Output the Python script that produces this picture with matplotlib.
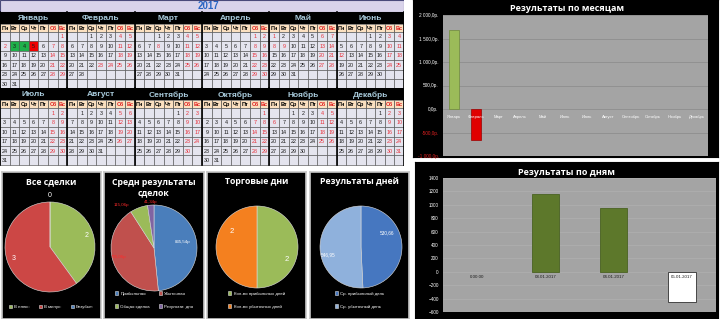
import calendar
import matplotlib
matplotlib.use("Agg")
import matplotlib.pyplot as plt
from matplotlib.patches import Rectangle
import numpy as np

W, H = 720, 319

# ---- data ----
year = 2017
month_names = ["Январь", "Февраль", "Март", "Апрель", "Май", "Июнь",
               "Июль", "Август", "Сентябрь", "Октябрь", "Ноябрь", "Декабрь"]
day_names = ["Пн", "Вт", "Ср", "Чт", "Пт", "Сб", "Вс"]
holidays = {1: [2], 2: [23, 24], 3: [8], 5: [1, 8, 9], 6: [12], 11: [6]}
win_days = {1: [3, 4]}
loss_days = {1: [5]}

month_results = [1675, -660, 0, 0, 0, 0, 0, 0, 0, 0, 0, 0]

day_labels = ["0:00:00", "03.01.2017", "04.01.2017", "05.01.2017"]
day_results = [0, 1165, 955, -455]

deals_labels = ["В плюс:", "В минус:", "Безубыт:"]
deals_counts = [2, 3, 0]

avg_labels = ["Прибыльная", "Убыточная", "Общая сделка", "Результат. дня"]
avg_values = [835.54, 735.06, 115.06, 41.34]

tdays_labels = ["Кол-во прибыльных дней", "Кол-во убыточных дней"]
tdays_counts = [2, 2]

dres_labels = ["Ср. прибыльный день", "Ср. убыточный день"]
dres_values = [530.66, 546.95]

plt.rcParams['font.family'] = ['Liberation Sans', 'DejaVu Sans']
title_font = ['Open Sans', 'DejaVu Sans']

fig = plt.figure(figsize=(W / 100, H / 100), dpi=100)
fig.patch.set_facecolor('white')


def px_axes(x, y, w, h):
    return fig.add_axes([x / W, 1 - (y + h) / H, w / W, h / H])


# ---- calendar ----
cal = px_axes(0, 0, 404, 166)
cal.set_xlim(0, 404)
cal.set_ylim(166, 0)
cal.axis('off')
cw = 404 / 42
wh = 9.4
cal.add_patch(Rectangle((0, 0), 404, 12, fc='#d9d3ea', ec='#4a4a7a', lw=0.8))
cal.text(208, 6.3, str(year), color='#2a66c4', fontsize=7, fontweight='bold',
         ha='center', va='center')

for mi in range(12):
    half, k = divmod(mi, 6)
    top = 12 + half * (20 + 6 * wh)
    x0 = k * 7 * cw
    cal.add_patch(Rectangle((x0, top), 7 * cw, 12, fc='black', ec='none'))
    cal.text(x0 + 3.5 * cw, top + 6.5, month_names[mi], color='#a8cadb',
             fontsize=6, fontweight='bold', ha='center', va='center')
    for d in range(7):
        cal.add_patch(Rectangle((x0 + d * cw, top + 12), cw, 8, fc='#fbe0c0',
                                ec='#3a3a3a', lw=0.4))
        cal.text(x0 + (d + 0.5) * cw, top + 16.2, day_names[d],
                 color='#e02020' if d >= 5 else 'black', fontsize=4,
                 fontweight='bold', ha='center', va='center')
    weeks = calendar.monthcalendar(year, mi + 1)
    while len(weeks) < 6:
        weeks.append([0] * 7)
    for r, week in enumerate(weeks):
        ytop = top + 20 + r * wh
        for d, day in enumerate(week):
            fc = '#e4e4ee'
            if day in win_days.get(mi + 1, []):
                fc = '#1fb04a'
            elif day in loss_days.get(mi + 1, []):
                fc = '#f00000'
            cal.add_patch(Rectangle((x0 + d * cw, ytop), cw, wh, fc=fc,
                                    ec='#4a4a4a', lw=0.4))
            if day:
                red = d >= 5 or day in holidays.get(mi + 1, [])
                cal.text(x0 + (d + 0.5) * cw, ytop + wh / 2 + 0.3, str(day),
                         color='#e8303a' if red else '#1a1a1a', fontsize=3.9,
                         ha='center', va='center')
    cal.plot([x0, x0], [top, top + 20 + 6 * wh], color='black', lw=1.2)
cal.plot([404, 404], [12, 166], color='black', lw=1.2)
cal.plot([0, 404], [165.8, 165.8], color='#303030', lw=0.8)

# ---- results by month ----
p1 = px_axes(413, 0, 305, 157)
p1.set_facecolor('black')
p1.set_xticks([])
p1.set_yticks([])
p1.text(0.505, 0.945, 'Результаты по месяцам', transform=p1.transAxes,
        color='white', fontsize=6.5, fontweight='bold', ha='center', va='center',
        family=title_font)

ax1 = px_axes(443, 15, 265, 141)
ax1.set_facecolor('#a4a4a4')
x = np.arange(len(month_results))
cols = ['#9bbb59' if v >= 0 else '#e00000' for v in month_results]
edges = ['#6f8a3a' if v >= 0 else '#9a0000' for v in month_results]
lws = [0.5 if v != 0 else 0 for v in month_results]
ax1.bar(x, month_results, width=0.45, color=cols, edgecolor=edges, lw=lws,
        zorder=3)
ax1.set_xlim(-0.5, 11.5)
ax1.set_ylim(-1000, 2000)
yt = np.arange(-1000, 2001, 500)
ax1.set_yticks(yt)
ax1.set_yticklabels([f"{v:,.1f}".replace(',', ' ').replace('.', ',') + "р."
                     for v in yt])
for lab, v in zip(ax1.get_yticklabels(), yt):
    lab.set_color('#e02020' if v < 0 else 'white')
ax1.tick_params(axis='y', length=0, labelsize=3.4, pad=3)
ax1.set_xticks([])
ax1.grid(axis='y', color='#8a8a8a', lw=0.5)
ax1.set_axisbelow(True)
for s in ax1.spines.values():
    s.set_visible(False)
for i, name in enumerate(month_names):
    ax1.annotate(name, (i, 0), xytext=(0, -5.5), textcoords='offset points',
                 ha='center', va='center', fontsize=3, color='white', zorder=4)

# ---- results by day ----
p2 = px_axes(415, 162, 303, 157)
p2.set_facecolor('black')
p2.set_xticks([])
p2.set_yticks([])
p2.text(0.5, 0.93, 'Результаты по дням', transform=p2.transAxes,
        color='white', fontsize=6.5, fontweight='bold', ha='center', va='center',
        family=title_font)

ax2 = px_axes(443, 178, 273, 134)
ax2.set_facecolor('#a4a4a4')
x = np.arange(len(day_results))
cols = ['#5d782b' if v >= 0 else 'white' for v in day_results]
edges = ['#4a6222' if v >= 0 else '#303030' for v in day_results]
lws = [0.6 if v != 0 else 0 for v in day_results]
ax2.bar(x, day_results, width=0.4, color=cols, edgecolor=edges, lw=lws,
        zorder=3)
ax2.set_xlim(-0.5, 3.5)
ax2.set_ylim(-600, 1400)
yt = np.arange(-600, 1401, 200)
ax2.set_yticks(yt)
ax2.tick_params(axis='y', length=0, labelsize=3.3, labelcolor='white', pad=3)
ax2.set_xticks([])
ax2.grid(axis='y', color='#b4b4b4', lw=0.4)
ax2.set_axisbelow(True)
for s in ax2.spines.values():
    s.set_visible(False)
for i, name in enumerate(day_labels):
    ax2.annotate(name, (i, 0), xytext=(0, -3.8), textcoords='offset points',
                 ha='center', va='center', fontsize=3.2, color='#1a1a1a', zorder=4)

# ---- pie panels ----
panels = [(2, 172, 99, 147), (104, 172, 100, 147), (207, 172, 99, 147),
          (310, 172, 99, 147)]
pie_geo = [(50, 247, 45), (154, 248, 43), (257, 247, 41), (361, 247, 41)]
titles = ['Все сделки', 'Средн результаты\nсделок', 'Торговые дни',
          'Результаты дней']
title_y = [182, 187.5, 182, 182]
pie_vals = [deals_counts, avg_values, tdays_counts, dres_values]
pie_labels = [deals_labels, avg_labels, tdays_labels, dres_labels]
pie_cols = [['#9bbb59', '#cc4745', '#4f81bd'],
            ['#4a7ebb', '#c0504d', '#9bbb59', '#8064a2'],
            ['#9bbb59', '#f4801f'],
            ['#4677c0', '#8fb1dc']]
texts = [[str(v) for v in deals_counts],
         [f"{v:.2f}".replace('.', ',') + 'р' for v in avg_values],
         [str(v) for v in tdays_counts],
         [f"{v:.2f}".replace('.', ',') for v in dres_values]]
text_r = [[0.85, 0.85, 1.15], [0.68, 0.85, 1.25, 1.08], [0.8, 0.72],
          [0.73, 0.83]]
text_shift = [[0, 0, 0], [9, -5, 17, 0], [-23, -31], [28, 11]]
text_col = [['white'] * 3, ['white', '#ff2a2a', '#ff2a2a', '#ff2a2a'],
            ['white'] * 2, ['white'] * 2]
text_size = [5, 3.2, 5.5, 3.4]
leg_cols = [3, 2, 1, 1]
leg_order = [[0, 1, 2], [0, 2, 1, 3], [0, 1], [0, 1]]
leg_y = [0.082, 0.129, 0.129, 0.129]

for i in range(4):
    px, py, pw, ph = panels[i]
    pa = px_axes(px, py, pw, ph)
    pa.set_facecolor('black')
    pa.set_xticks([])
    pa.set_yticks([])
    for s in pa.spines.values():
        s.set_color('#c8c8c8')
        s.set_linewidth(1.2)
    fig.text((px + pw / 2) / W, 1 - title_y[i] / H, titles[i], color='white',
             fontsize=6.3, fontweight='bold', ha='center', va='center',
             linespacing=1.25, family=title_font)
    cx, cy, r = pie_geo[i]
    ax = px_axes(cx - r, cy - r, 2 * r, 2 * r)
    wedges, _ = ax.pie(pie_vals[i], colors=pie_cols[i], startangle=90,
                       counterclock=False, radius=1,
                       wedgeprops=dict(edgecolor='#dcdcdc', linewidth=0.4))
    ax.set_xlim(-1, 1)
    ax.set_ylim(-1, 1)
    for j, w in enumerate(wedges):
        a = np.deg2rad((w.theta1 + w.theta2) / 2 + text_shift[i][j])
        ax.text(text_r[i][j] * np.cos(a), text_r[i][j] * np.sin(a), texts[i][j],
                color=text_col[i][j], fontsize=text_size[i], ha='center',
                va='center')
    order = leg_order[i]
    pa.legend([wedges[j] for j in order], [pie_labels[i][j] for j in order],
              ncol=leg_cols[i], loc='center', bbox_to_anchor=(0.5, leg_y[i]),
              frameon=False, fontsize=3.2, labelcolor='white', handlelength=0.7,
              handleheight=0.7, handletextpad=0.5, columnspacing=2.0,
              labelspacing=2.0)

fig.savefig('out.png', dpi=100, facecolor='white')
